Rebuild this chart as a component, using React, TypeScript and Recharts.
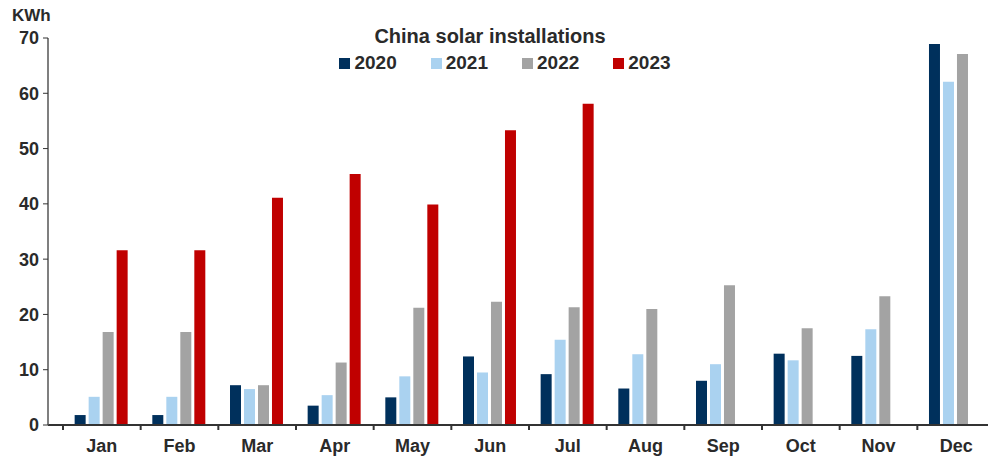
import { BarChart, Bar, XAxis, YAxis } from 'recharts'

const months = ['Jan', 'Feb', 'Mar', 'Apr', 'May', 'Jun', 'Jul', 'Aug', 'Sep', 'Oct', 'Nov', 'Dec']
const y2020 = [1.8, 1.8, 7.2, 3.5, 5, 12.4, 9.2, 6.6, 8, 12.9, 12.5, 68.9]
const y2021 = [5.1, 5.1, 6.5, 5.4, 8.8, 9.5, 15.4, 12.8, 11, 11.7, 17.3, 62.1]
const y2022 = [16.8, 16.8, 7.2, 11.3, 21.2, 22.3, 21.3, 21, 25.3, 17.5, 23.3, 67.1]
const y2023 = [31.6, 31.6, 41.1, 45.4, 39.9, 53.3, 58.1, null, null, null, null, null]
const yTicks = [0, 10, 20, 30, 40, 50, 60, 70]

const series = [
  { key: '2020', color: '#00305C' },
  { key: '2021', color: '#AAD2F0' },
  { key: '2022', color: '#A3A3A3' },
  { key: '2023', color: '#C00000' },
]

const data = months.map((m, i) => ({
  month: m,
  '2020': y2020[i],
  '2021': y2021[i],
  '2022': y2022[i],
  '2023': y2023[i],
}))

const font = '"Liberation Sans", Arial, sans-serif'
const textColor = '#2a2a2a'

function MonthTick(props: any) {
  const { x, y, payload } = props
  const half = payload?.offset ?? 38.8
  return (
    <g>
      <line x1={x - half} x2={x - half} y1={y} y2={y + 5} stroke="#333" strokeWidth={2} />
      <text x={x} y={y + 27} textAnchor="middle" fill={textColor} fontSize={18} fontWeight="bold" fontFamily={font}>
        {payload.value}
      </text>
    </g>
  )
}

export default function App() {
  return (
    <div style={{ position: 'absolute', left: 0, top: 0, width: 988, height: 459, overflow: 'hidden', background: '#fff', fontFamily: font, fontWeight: 'bold', color: textColor }}>
      <div style={{ position: 'absolute', left: 12, top: 6, fontSize: 17 }}>KWh</div>
      <div style={{ position: 'absolute', left: 0, top: 25, width: 980, textAlign: 'center', fontSize: 20 }}>
        China solar installations
      </div>
      <div style={{ position: 'absolute', left: 0, top: 52, width: 1010, display: 'flex', justifyContent: 'center', gap: 34, fontSize: 19 }}>
        {series.map(s => (
          <div key={s.key} style={{ display: 'flex', alignItems: 'center' }}>
            <span style={{ display: 'inline-block', width: 11, height: 11, background: s.color, marginRight: 4 }} />
            {s.key}
          </div>
        ))}
      </div>
      <BarChart
        width={995}
        height={459}
        data={data}
        margin={{ top: 38, right: 0, bottom: 4, left: 0 }}
        barCategoryGap="15%"
        barGap={3}
      >
        <XAxis
          dataKey="month"
          height={30}
          padding={{ left: 15, right: 0 }}
          axisLine={{ stroke: '#333', strokeWidth: 2 }}
          tickLine={false}
          tickSize={0}
          tickMargin={0}
          interval={0}
          tick={<MonthTick />}
        />
        <YAxis
          width={48}
          domain={[0, 70]}
          ticks={yTicks}
          interval={0}
          axisLine={{ stroke: '#555', strokeWidth: 1.5 }}
          tickLine={{ stroke: '#333' }}
          tickSize={5}
          tickMargin={4}
          tick={{ fill: textColor, fontSize: 18, fontWeight: 'bold', fontFamily: font }}
        />
        {series.map(s => (
          <Bar key={s.key} dataKey={s.key} fill={s.color} isAnimationActive={false} />
        ))}
      </BarChart>
    </div>
  )
}
